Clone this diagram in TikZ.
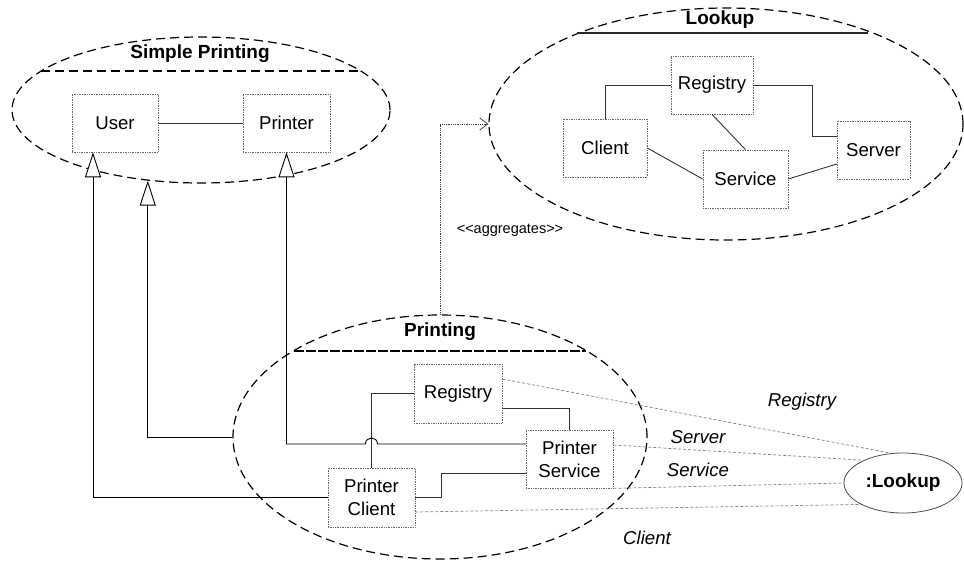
\documentclass[tikz,border=0pt]{standalone}
\usepackage{fontspec}
\setmainfont{Liberation Sans}
\usetikzlibrary{shapes.geometric,arrows.meta,calc}
\begin{document}
\begin{tikzpicture}[x=1pt,y=-1pt,
  font=\fontsize{18.6}{23}\selectfont,
  box/.style={draw=black!60, line width=0.7pt, densely dotted, inner sep=0pt, align=center},
  pkg/.style={ellipse, draw=black, line width=1.2pt, dash pattern=on 9pt off 5pt, inner sep=0pt},
  title/.style={font=\fontsize{19}{22}\selectfont\bfseries},
  conn/.style={draw=black!80, line width=0.9pt},
  gen/.style={draw=black, line width=0.9pt, -{Triangle[open, length=25pt, width=16pt, fill=white]}},
  agg/.style={draw=black!75, line width=0.8pt, densely dotted, -{Straight Barb[length=8pt, width=12pt, line width=0.8pt]}},
  role/.style={draw=black!50, line width=0.7pt, dash pattern=on 3pt off 2pt},
  rolelabel/.style={font=\fontsize{18.6}{21.5}\selectfont\itshape},
  sep/.style={line width=1.2pt}
]
\useasboundingbox (0,0) rectangle (964,563);

% ---------- Simple Printing ----------
\node[pkg, minimum width=378pt, minimum height=146pt] (sp) at (201,110) {};
\node[title] (sptitle) at (200,54) {Simple Printing};
\draw[sep, dash pattern=on 9pt off 5pt] (41,71) -- (361,71);
\node[box, minimum width=86pt, minimum height=58pt] (user) at (115,123) {User};
\node[box, minimum width=87pt, minimum height=58pt] (printer) at (286.5,123) {Printer};
\draw[conn] (user.east) -- (printer.west);

% ---------- Lookup ----------
\node[pkg, minimum width=474pt, minimum height=232pt] (lk) at (726,124) {};
\node[title] (lktitle) at (720,20) {Lookup};
\draw[sep, draw=black!85] (577,33) -- (868,33);
\node[box, minimum width=82pt, minimum height=58pt] (lreg) at (712,85) {Registry};
\node[box, minimum width=84pt, minimum height=58pt] (lcl) at (605,148) {Client};
\node[box, minimum width=85pt, minimum height=58pt] (lsv) at (745.5,179) {Service};
\node[box, minimum width=73pt, minimum height=58pt] (lsr) at (873.5,150) {Server};
\draw[conn] (lreg.west) -| (lcl.north);
\draw[conn] (lreg.east) -| ([xshift=-24pt,yshift=14pt]lsr.west) -- ([yshift=14pt]lsr.west);
\draw[conn] (lreg.south) -- (lsv.north);
\draw[conn] (lcl.east) -- (lsv.west);
\draw[conn] (lsv.east) -- ([yshift=-14pt]lsr.west);

% ---------- Printing ----------
\node[pkg, minimum width=414pt, minimum height=244pt] (pr) at (440,437) {};
\node[title] (prtitle) at (440,332) {Printing};
\draw[sep, dash pattern=on 10pt off 2pt] (294,351) -- (586,351);
\node[box, minimum width=88pt, minimum height=59pt] (preg) at (458,393.5) {Registry};
\node[box, minimum width=87pt, minimum height=58pt] (psvc) at (569.5,459) {Printer\\Service};
\node[box, minimum width=87pt, minimum height=59pt] (pcl) at (371.5,497.5) {Printer\\Client};
\draw[conn] (pcl.north) |- (preg.west);
\draw[conn] ([yshift=-14.5pt]preg.east) -| (psvc.north);
\draw[conn] (pcl.east) -- ++(26,0) |- ([yshift=-14pt]psvc.west);

% ---------- :Lookup instance ----------
\node[ellipse, draw=black!70, line width=0.8pt, minimum width=118pt, minimum height=60pt, inner sep=0pt, title] (inst) at (903,483) {:Lookup};

% role bindings
\draw[role] ([yshift=14.5pt]preg.east) -- (inst.112);
\draw[role] ([yshift=14pt]psvc.east) -- (inst.150);
\draw[role] (psvc.south east) -- (inst.180);
\draw[role] ([yshift=-14.5pt]pcl.east) -- (inst.207);
\node[rolelabel] (lreglab) at (802,402) {Registry};
\node[rolelabel] (lsrvlab) at (698,437) {Server};
\node[rolelabel] (lsvclab) at (698,470) {Service};
\node[rolelabel] (lcllab) at (647,538) {Client};

% ---------- generalisations ----------
\draw[gen] (pcl.west) -| ([xshift=-22pt]user.south);
\draw[gen] (pr.west) -| (sp.233.4);
\coordinate (jmp) at (pcl.north |- 0,444);
\draw[gen] ([yshift=15pt]psvc.west) -- ([xshift=6pt]jmp)
  .. controls ([xshift=6pt,yshift=8pt]jmp) and ([xshift=-6pt,yshift=8pt]jmp) .. ([xshift=-6pt]jmp)
  -- (printer.south |- jmp) -- (printer.south);

% ---------- aggregates ----------
\draw[agg] (pr.north) |- (lk.west);
\node[font=\fontsize{14.5}{17}\selectfont] (agglab) at (510,230) {<{}<aggregates>{}>};
\end{tikzpicture}
\end{document}
